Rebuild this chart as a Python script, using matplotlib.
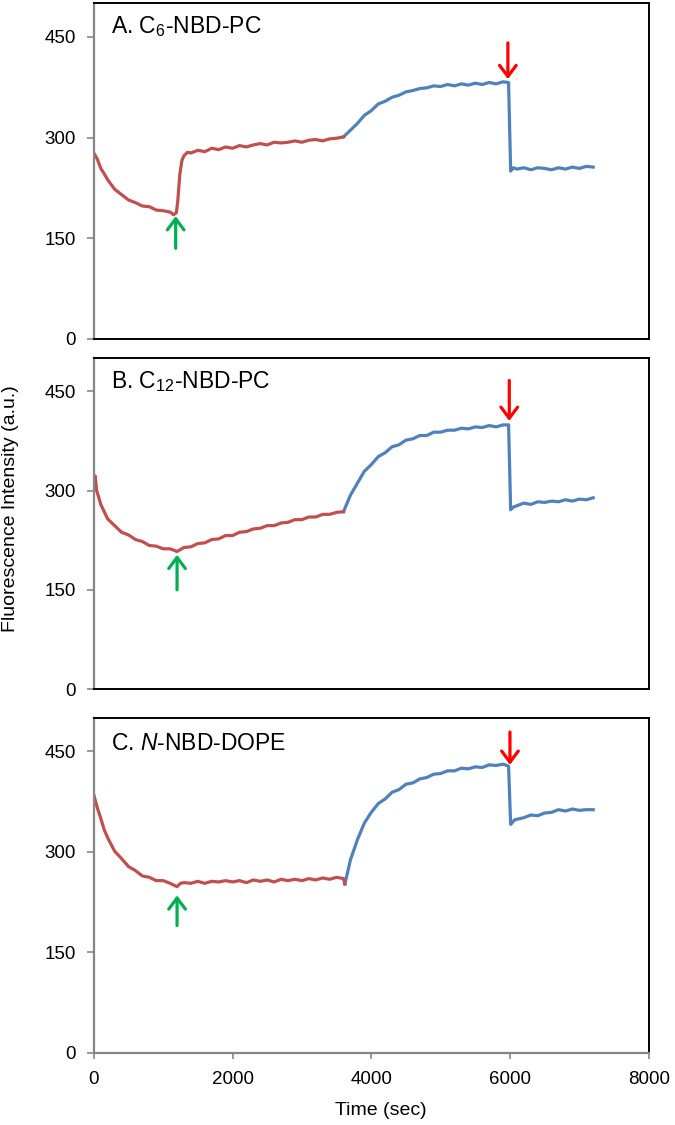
import matplotlib
matplotlib.use("Agg")
import matplotlib.pyplot as plt

plt.rcParams['font.family'] = ['Liberation Sans', 'DejaVu Sans']
plt.rcParams['mathtext.fontset'] = 'custom'
plt.rcParams['mathtext.rm'] = 'Liberation Sans'
plt.rcParams['mathtext.it'] = 'Liberation Sans:italic'

# ---- panel A: C6-NBD-PC ----
a_red_t = [0, 50, 100, 150, 200, 300, 400, 500, 600, 700, 800, 900, 1000, 1100, 1150, 1190,
           1210, 1240, 1270, 1300, 1350, 1400, 1500, 1600, 1700, 1800, 1900, 2000, 2100, 2200,
           2300, 2400, 2500, 2600, 2700, 2800, 2900, 3000, 3100, 3200, 3300, 3400, 3500, 3600]
a_red_v = [277, 268, 254, 246, 237, 223, 215, 207, 203, 198, 197, 192, 191, 189, 185, 188,
           205, 245, 266, 273, 278, 277, 281, 279, 284, 282, 286, 284, 288, 286,
           289, 291, 289, 293, 292, 293, 295, 293, 296, 297, 295, 298, 299, 301]
a_blue_t = [3600, 3700, 3800, 3900, 4000, 4100, 4200, 4300, 4400, 4500, 4600, 4700, 4800, 4900,
            5000, 5100, 5200, 5300, 5400, 5500, 5600, 5700, 5800, 5900, 5980, 6010, 6050, 6100,
            6200, 6300, 6400, 6500, 6600, 6700, 6800, 6900, 7000, 7100, 7200]
a_blue_v = [301, 311, 321, 333, 340, 350, 354, 360, 363, 368, 370, 373, 374, 377,
            376, 379, 377, 380, 378, 381, 379, 382, 380, 383, 382, 250, 255, 253,
            255, 252, 255, 254, 252, 255, 253, 256, 254, 257, 256]

# ---- panel B: C12-NBD-PC ----
b_red_t = [0, 20, 40, 70, 100, 150, 200, 300, 400, 500, 600, 700, 800, 900, 1000, 1100, 1200,
           1300, 1400, 1500, 1600, 1700, 1800, 1900, 2000, 2100, 2200, 2300, 2400, 2500, 2600,
           2700, 2800, 2900, 3000, 3100, 3200, 3300, 3400, 3500, 3600]
b_red_v = [312, 322, 300, 290, 279, 268, 257, 247, 237, 233, 226, 223, 217, 216, 212, 212, 208,
           214, 215, 220, 221, 226, 227, 232, 232, 237, 238, 242, 243, 247, 247,
           251, 252, 256, 256, 260, 260, 264, 264, 267, 268]
b_blue_t = [3600, 3700, 3800, 3900, 4000, 4100, 4200, 4300, 4400, 4500, 4600, 4700, 4800, 4900,
            5000, 5100, 5200, 5300, 5400, 5500, 5600, 5700, 5800, 5900, 5980, 6010, 6050, 6100,
            6200, 6300, 6400, 6500, 6600, 6700, 6800, 6900, 7000, 7100, 7200]
b_blue_v = [268, 293, 311, 329, 339, 351, 357, 366, 369, 376, 378, 383, 383, 388,
            388, 391, 391, 394, 393, 396, 395, 398, 396, 399, 399, 271, 275, 277,
            281, 279, 283, 282, 284, 283, 286, 284, 287, 286, 289]

# ---- panel C: N-NBD-DOPE ----
c_red_t = [0, 50, 100, 150, 200, 300, 400, 500, 600, 700, 800, 900, 1000, 1100, 1200, 1250,
           1300, 1400, 1500, 1600, 1700, 1800, 1900, 2000, 2100, 2200, 2300, 2400, 2500, 2600,
           2700, 2800, 2900, 3000, 3100, 3200, 3300, 3400, 3500, 3600, 3620]
c_red_v = [385, 366, 350, 333, 321, 301, 290, 278, 272, 264, 262, 257, 257, 253, 248, 253,
           254, 253, 256, 253, 256, 255, 257, 255, 257, 254, 258, 256, 258, 255,
           259, 257, 259, 257, 260, 258, 261, 259, 262, 260, 252]
c_blue_t = [3620, 3700, 3800, 3900, 4000, 4100, 4200, 4300, 4400, 4500, 4600, 4700, 4800, 4900,
            5000, 5100, 5200, 5300, 5400, 5500, 5600, 5700, 5800, 5900, 5980, 6010, 6070, 6200,
            6300, 6400, 6500, 6600, 6700, 6800, 6900, 7000, 7100, 7200]
c_blue_v = [252, 288, 318, 343, 359, 372, 379, 389, 393, 401, 403, 409, 411, 416,
            417, 421, 421, 425, 424, 427, 426, 430, 429, 431, 428, 341, 348, 351,
            355, 354, 358, 359, 363, 361, 364, 362, 363, 363]

titles = ["A. C$_6$-NBD-PC", "B. C$_{12}$-NBD-PC", "C. $N$-NBD-DOPE"]
title_y = [456, 454, 452]
# arrows: (x, tail, head)
green_arrows = [(1180, 135, 183), (1200, 150, 203), (1200, 190, 235)]
red_arrows = [(5970, 441, 387), (5990, 466, 405), (6000, 479, 430)]

series = [(a_red_t, a_red_v, a_blue_t, a_blue_v),
          (b_red_t, b_red_v, b_blue_t, b_blue_v),
          (c_red_t, c_red_v, c_blue_t, c_blue_v)]

RED = "#C0504D"
BLUE = "#4F81BD"
rects = [[0.139, 0.6987, 0.822, 0.2984],
         [0.139, 0.3873, 0.822, 0.2945],
         [0.139, 0.0643, 0.822, 0.2975]]

fig = plt.figure(figsize=(6.75, 11.25), dpi=100)

for i in range(3):
    ax = fig.add_axes(rects[i])
    rt, rv, bt, bv = series[i]
    ax.plot(bt, bv, color=BLUE, lw=2.3, solid_joinstyle='round')
    ax.plot(rt, rv, color=RED, lw=2.3, solid_joinstyle='round')
    ax.set_xlim(0, 8000)
    ax.set_ylim(0, 500)
    ax.set_yticks([0, 150, 300, 450])
    ax.tick_params(axis='y', direction='out', length=5, width=1.2, color='#868686',
                   labelsize=13.5, pad=8)
    for s in ['top', 'right']:
        ax.spines[s].set_color('black')
        ax.spines[s].set_linewidth(1.4)
    ax.spines['left'].set_color('#868686')
    ax.spines['left'].set_linewidth(1.6)
    if i < 2:
        ax.spines['bottom'].set_color('black')
        ax.spines['bottom'].set_linewidth(1.4)
        ax.set_xticks([])
    else:
        ax.spines['bottom'].set_color('#868686')
        ax.spines['bottom'].set_linewidth(1.6)
        ax.set_xticks([0, 2000, 4000, 6000, 8000])
        ax.tick_params(axis='x', direction='out', length=4, width=1.2, color='#868686',
                       labelsize=13.5, pad=9)
    ax.text(250, title_y[i], titles[i], fontsize=16.5, va='baseline', ha='left')

    gx, gt, gh = green_arrows[i]
    ax.annotate("", xy=(gx, gh), xytext=(gx, gt),
                arrowprops=dict(arrowstyle="->,head_length=0.4,head_width=0.3",
                                color="#00B050", lw=2.3, mutation_scale=20,
                                shrinkA=0, shrinkB=0))
    rx, rtl, rh = red_arrows[i]
    ax.annotate("", xy=(rx, rh), xytext=(rx, rtl),
                arrowprops=dict(arrowstyle="->,head_length=0.4,head_width=0.3",
                                color="#FF0000", lw=2.3, mutation_scale=20,
                                shrinkA=0, shrinkB=0))

fig.text(0.0155, 0.548, "Fluorescence Intensity (a.u.)", rotation=90,
         ha='center', va='center', fontsize=14)
fig.text(0.564, 0.0125, "Time (sec)", ha='center', va='center', fontsize=14)

fig.savefig("out.png", dpi=100)
